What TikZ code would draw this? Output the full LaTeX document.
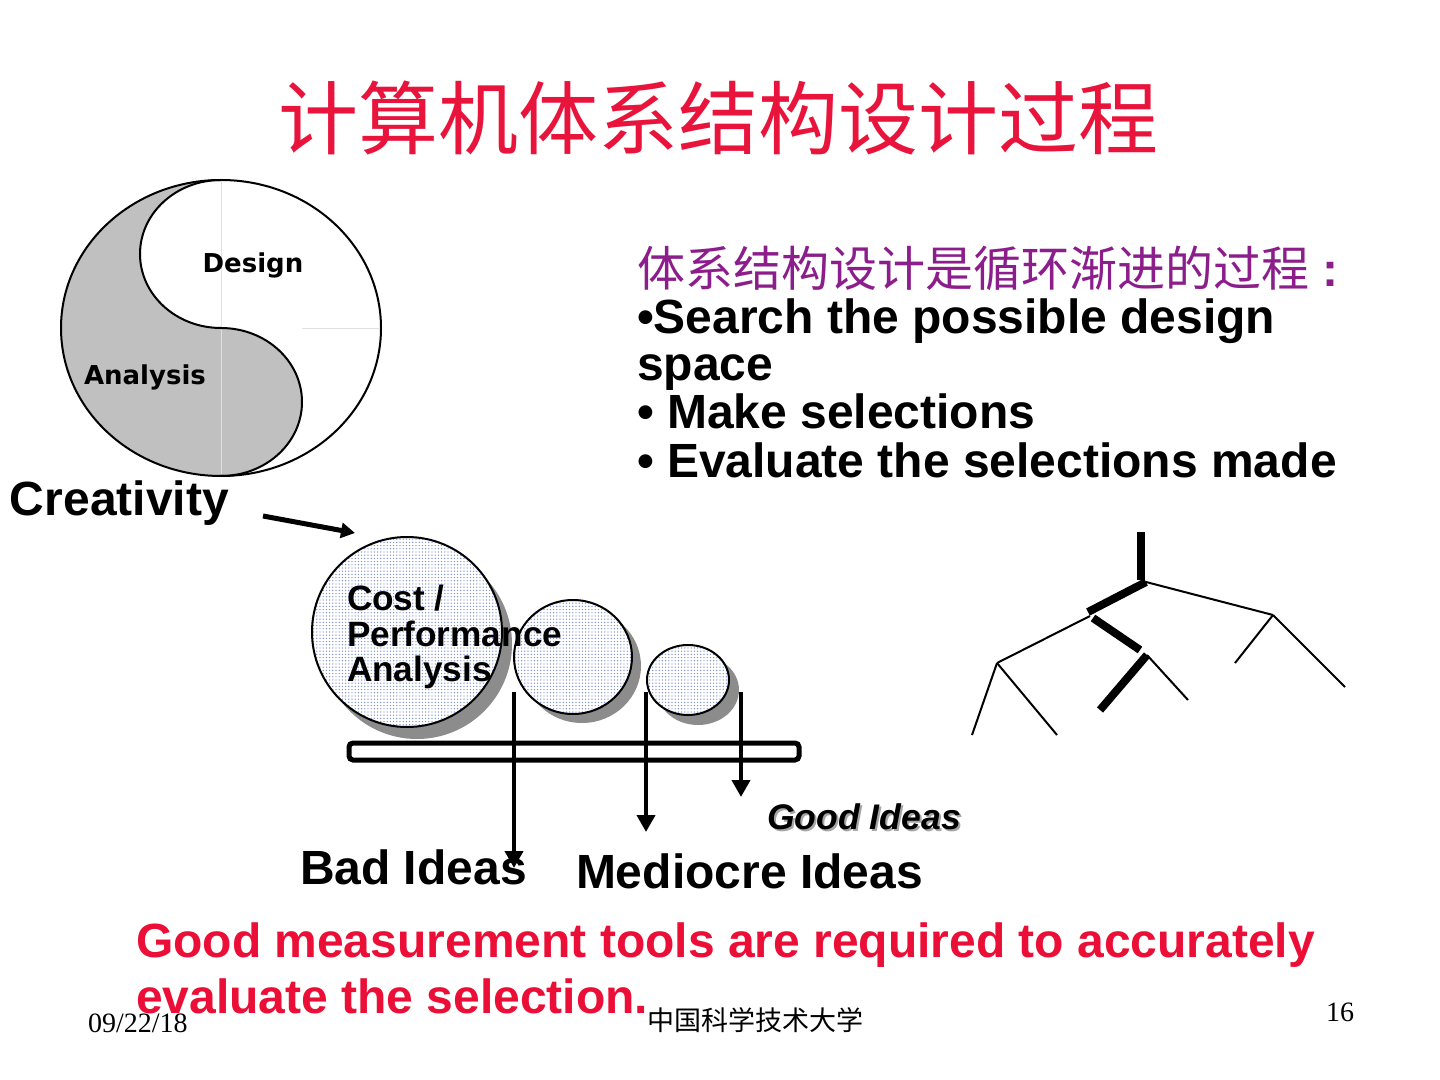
\documentclass[tikz,border=0pt]{standalone}
\usepackage{fontspec}
\setmainfont{Liberation Sans}
\newfontfamily\cjk{Noto Sans CJK SC}
\newfontfamily\dvs{DejaVu Sans}
\newfontfamily\tms{Liberation Serif}
\usetikzlibrary{arrows.meta,patterns.meta}
\definecolor{titlered}{RGB}{232,20,60}
\definecolor{redtext}{RGB}{235,15,55}
\definecolor{purp}{RGB}{140,30,140}
\definecolor{yygray}{RGB}{192,192,192}
\definecolor{shad}{RGB}{140,140,140}
\definecolor{dotblue}{RGB}{120,140,215}
\tikzset{
  txt/.style={inner sep=0pt, outer sep=0pt, anchor=base west},
  bigbold/.style={font=\bfseries\fontsize{24}{24}\selectfont},
  costtxt/.style={txt, font=\bfseries\fontsize{17.6}{18}\selectfont},
  yylabel/.style={inner sep=0pt, font=\dvs\bfseries\fontsize{13}{13}\selectfont},
  bubble/.style={draw=black, line width=1pt, preaction={fill=white},
     pattern={Dots[distance=1.6pt,radius=0.35pt]}, pattern color=dotblue},
  bshadow/.style={fill=shad, draw=none},
  flowarrow/.style={line width=2pt, -{Triangle[width=9pt,length=8.5pt]}},
  thinbranch/.style={line width=1pt},
  thickbranch/.style={line width=4pt},
}
\begin{document}
\begin{tikzpicture}[x=0.5pt,y=-0.5pt]
\useasboundingbox (0,0) rectangle (1440,1080);
\fill[white] (0,0) rectangle (1440,1080);

% title
\node[inner sep=0pt, text=titlered, font=\cjk\fontsize{40}{48}\selectfont] (title) at (718,118) {计算机体系结构设计过程};

% yin-yang
\fill[yygray] (221,180) arc[start angle=90,end angle=270,x radius=80pt,y radius=74pt]
   arc[start angle=270,end angle=450,x radius=40.5pt,y radius=37pt]
   arc[start angle=270,end angle=90,x radius=40.5pt,y radius=37pt] -- cycle;
\draw[white!88!black, line width=0.4pt] (221,182) -- (221,474) (302,328) -- (379,328);
\draw[line width=1pt] (221,328) ellipse[x radius=80pt,y radius=74pt];
\draw[line width=1pt] (221,180) arc[start angle=90,end angle=270,x radius=40.5pt,y radius=37pt]
   arc[start angle=90,end angle=-90,x radius=40.5pt,y radius=37pt];
\node[yylabel] (design) at (253,265) {Design};
\node[yylabel] (analysis) at (145,377) {Analysis};

% creativity
\node[txt, font=\bfseries\fontsize{24}{24}\selectfont] (creat) at (10,515) {Creativity};
\coordinate (ca) at (263,516);
\coordinate (cb) at (355,533);
\draw[line width=2.5pt, -{Triangle[width=7.5pt,length=7pt]}] (ca) -- (cb);

% bubbles with shadows
\fill[bshadow] (417,644) circle[radius=47.5pt];
\fill[bshadow] (582,666) ellipse[x radius=29.5pt,y radius=28.5pt];
\fill[bshadow] (698,690) ellipse[x radius=20.5pt,y radius=17.5pt];
\path[bubble] (407,632) circle[radius=47.5pt];
\path[bubble] (573,657) ellipse[x radius=29.5pt,y radius=28.5pt];
\path[bubble] (688,680) ellipse[x radius=20.5pt,y radius=17.5pt];
\node[costtxt] (cost1) at (347,610) {Cost /};
\node[costtxt] (cost2) at (347,646) {Performance};
\node[costtxt] (cost3) at (347,681) {Analysis};

% filter bar
\draw[line width=2.5pt, fill=white, rounded corners=2pt] (349,743) rectangle (799,760);

% outlet arrows
\coordinate (a1s) at (514,692); \coordinate (a1e) at (514,868);
\coordinate (a2s) at (646,692); \coordinate (a2e) at (646,832);
\coordinate (a3s) at (741,692); \coordinate (a3e) at (741,797);
\draw[flowarrow] (a1s) -- (a1e);
\draw[flowarrow] (a2s) -- (a2e);
\draw[flowarrow] (a3s) -- (a3e);

% idea labels
\node[txt, text=black!35, font=\bfseries\itshape\fontsize{17.8}{18}\selectfont] (goodsh) at (769,831) {Good Ideas};
\node[txt, font=\bfseries\itshape\fontsize{17.8}{18}\selectfont] (good) at (767,829) {Good Ideas};
\node[txt, bigbold] (bad) at (300,884) {Bad Ideas};
\node[txt, bigbold] (medi) at (576,888) {Mediocre Ideas};

% right text block
\node[inner sep=0pt, anchor=west, text=purp, font=\cjk\fontsize{24}{24}\selectfont] (cn) at (637,268) {体系结构设计是循环渐进的过程{\bfseries\rmfamily\ :}};
\node[txt, bigbold] (b1) at (637,334) {•Search the possible design};
\node[txt, bigbold] (b1b) at (637,381) {space};
\node[txt, bigbold] (b2) at (637,429) {• Make selections};
\node[txt, bigbold] (b3) at (637,477) {• Evaluate the selections made};

% tree
\coordinate (t0) at (1141,532);
\coordinate (t1) at (1141,580);
\coordinate (r) at (1146,582);
\coordinate (nl) at (1088,612);
\coordinate (nl2) at (1090,616);
\coordinate (ll) at (997,663);
\coordinate (nr) at (1273,615);
\coordinate (m1) at (1093,618);
\coordinate (m2) at (1140,650);
\coordinate (m3) at (1147,655);
\coordinate (m4) at (1100,710);
\coordinate (m5) at (1188,700);
\coordinate (rl) at (1235,663);
\coordinate (rr) at (1345,687);
\coordinate (l1) at (972,735);
\coordinate (l2) at (1057,735);
\draw[thickbranch] (t0) -- (t1);
\draw[thickbranch] (r) -- (nl);
\draw[thinbranch] (r) -- (nr);
\draw[thinbranch] (nl2) -- (ll);
\draw[thickbranch] (m1) -- (m2);
\draw[thickbranch] (m3) -- (m4);
\draw[thinbranch] (m3) -- (m5);
\draw[thinbranch] (nr) -- (rl);
\draw[thinbranch] (nr) -- (rr);
\draw[thinbranch] (ll) -- (l1);
\draw[thinbranch] (ll) -- (l2);

% bottom red text
\node[txt, text=redtext, bigbold] (red1) at (136,957) {Good measurement tools are required to accurately};
\node[txt, text=redtext, bigbold] (red2) at (136,1013) {evaluate the selection.};

% footer
\node[txt, font=\tms\fontsize{14}{14}\selectfont] (date) at (88,1032) {09/22/18};
\node[inner sep=0pt, anchor=west, font=\cjk\fontsize{13.5}{14}\selectfont] (uni) at (647,1020) {中国科学技术大学};
\node[txt, font=\tms\fontsize{14}{14}\selectfont] (page) at (1326,1021) {16};
\end{tikzpicture}
\end{document}
